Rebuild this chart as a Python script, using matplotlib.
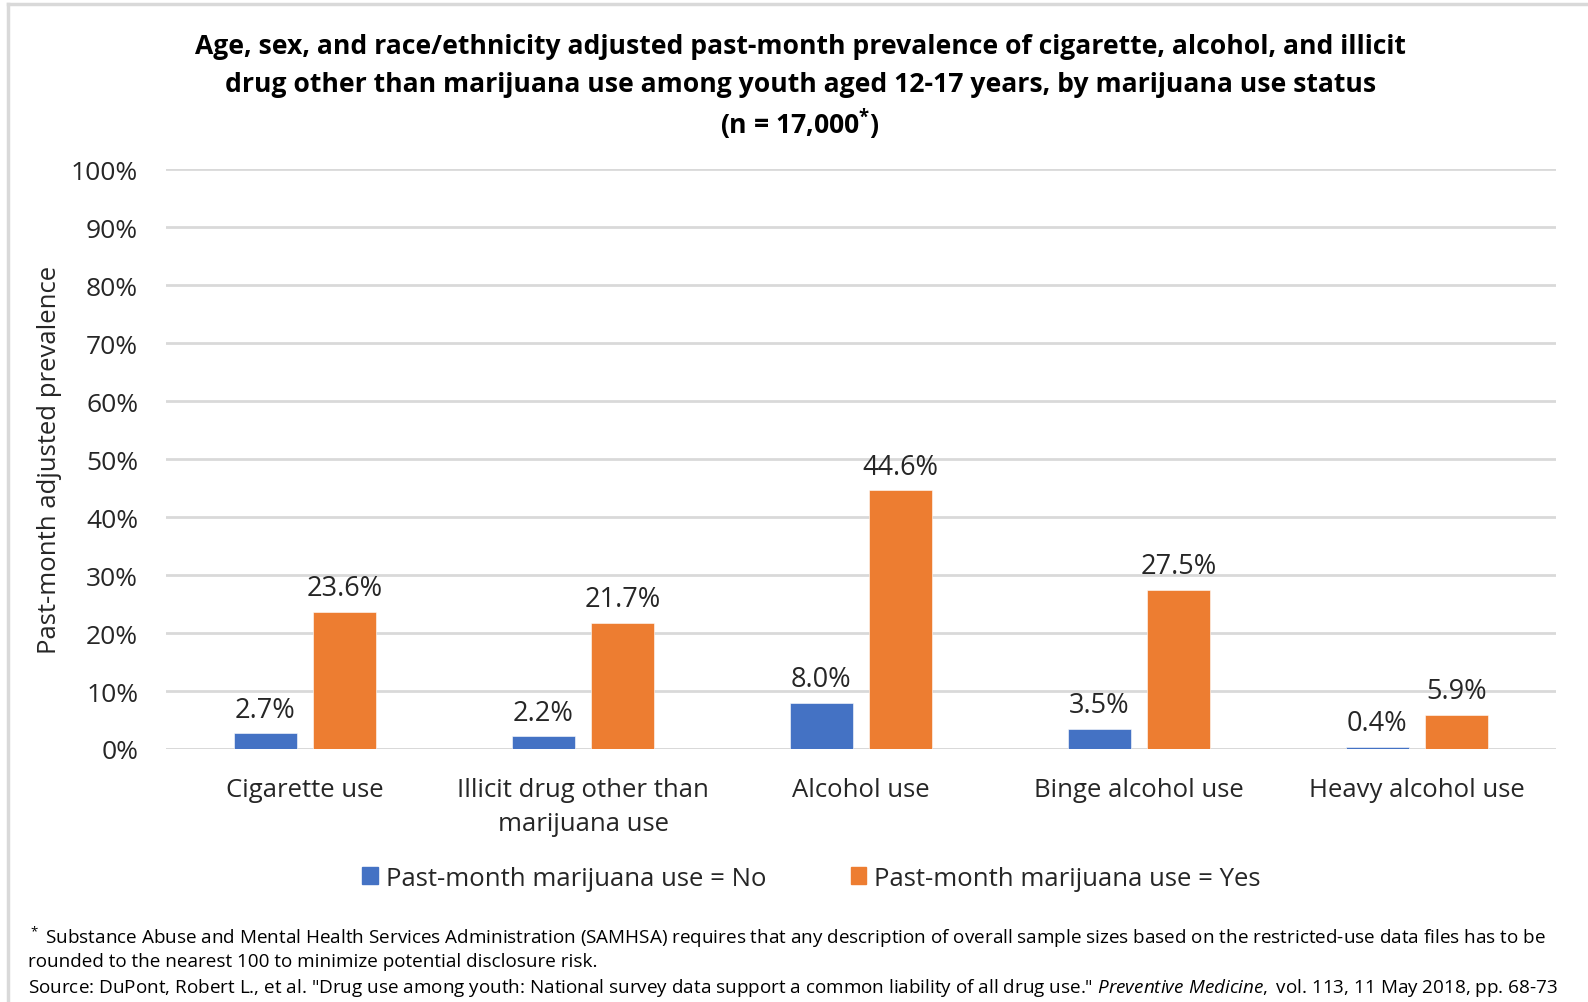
import matplotlib
matplotlib.use("Agg")
import matplotlib.pyplot as plt
from matplotlib.patches import Rectangle
from matplotlib.lines import Line2D
import numpy as np

plt.rcParams['font.family'] = ['Open Sans', 'DejaVu Sans']
plt.rcParams['mathtext.fontset'] = 'custom'
plt.rcParams['mathtext.rm'] = 'Open Sans'
plt.rcParams['mathtext.it'] = 'Open Sans:italic'
plt.rcParams['mathtext.bf'] = 'Open Sans:bold'

categories = ['Cigarette use', 'Illicit drug other than\nmarijuana use', 'Alcohol use',
              'Binge alcohol use', 'Heavy alcohol use']
no_use = [2.7, 2.2, 8.0, 3.5, 0.4]
yes_use = [23.6, 21.7, 44.6, 27.5, 5.9]
series_names = ['Past-month marijuana use = No', 'Past-month marijuana use = Yes']
yticks = list(range(0, 101, 10))

blue = '#4472C4'
orange = '#ED7D31'
grid_col = '#D9D9D9'
txt = '#262626'
fs = 18.5

fig = plt.figure(figsize=(15.88, 10.03), dpi=100)
ax = fig.add_axes([166 / 1588, 253 / 1003, 1390 / 1588, 580 / 1003])

x = np.arange(len(categories))
w = 0.227
off = 0.143
b1 = ax.bar(x - off, no_use, w, color=blue, edgecolor='white', linewidth=0.4, zorder=3)
b2 = ax.bar(x + off, yes_use, w, color=orange, edgecolor='white', linewidth=0.4, zorder=3)

for bars, vals in ((b1, no_use), (b2, yes_use)):
    for r, v in zip(bars, vals):
        ax.annotate(f'{v:.1f}%', (r.get_x() + r.get_width() / 2, v), xytext=(0, 7),
                    textcoords='offset points', ha='center', va='bottom',
                    fontsize=19.5, color=txt)

ax.set_xlim(-0.5, len(categories) - 0.5)
ax.set_ylim(0, 100)
ax.set_yticks(yticks)
ax.set_yticklabels([f'{t}%' for t in yticks], fontsize=19, color=txt)
ax.set_xticks(x)
ax.set_xticklabels(categories, fontsize=fs, color=txt, linespacing=1.5, va='top')
ax.tick_params(axis='both', length=0)
ax.tick_params(axis='y', pad=20)
ax.tick_params(axis='x', pad=20)
ax.yaxis.grid(True, color=grid_col, linewidth=2, zorder=0)
for s in ax.spines.values():
    s.set_visible(False)
ax.axhline(0, color=grid_col, linewidth=2, zorder=2)
ax.set_ylabel('Past-month adjusted prevalence', fontsize=fs, color=txt)
ax.yaxis.set_label_coords(-104 / 1390, 0.5)

# title
tkw = dict(ha='center', va='center', fontsize=19.1, fontweight='bold', color='black')
fig.text(0.504, 1 - 47 / 1003, 'Age, sex, and race/ethnicity adjusted past-month prevalence of cigarette, alcohol, and illicit', **tkw)
fig.text(0.504, 1 - 85 / 1003, 'drug other than marijuana use among youth aged 12-17 years, by marijuana use status', **tkw)
fig.text(0.504, 1 - 124 / 1003, r'(n = 17,000$^{\mathbf{*}}$)', **tkw)

# legend
handles = [Rectangle((0, 0), 1, 1, color=blue), Rectangle((0, 0), 1, 1, color=orange)]
fig.legend(handles, series_names, loc='center', bbox_to_anchor=(0.511, 1 - 879 / 1003),
           ncol=2, frameon=False, fontsize=fs, handlelength=0.6, handleheight=0.6,
           handletextpad=0.3, columnspacing=3.3, labelcolor=txt)

# footnotes
fkw = dict(ha='left', va='center', fontsize=13.6, color='black')
fig.text(28 / 1588, 1 - 937 / 1003,
         r'$^*$ Substance Abuse and Mental Health Services Administration (SAMHSA) requires that any description of overall sample sizes based on the restricted-use data files has to be',
         **fkw)
fig.text(28 / 1588, 1 - 962 / 1003,
         'rounded to the nearest 100 to minimize potential disclosure risk.', **fkw)
fig.text(28 / 1588, 1 - 988 / 1003,
         'Source: DuPont, Robert L., et al. "Drug use among youth: National survey data support a common liability of all drug use." '
         r'$\mathit{Preventive\ Medicine,}$ vol. 113, 11 May 2018, pp. 68-73', **fkw)

# chart frame
fig.add_artist(Line2D([8 / 1588, 8 / 1588], [0, 1 - 5 / 1003], color=grid_col, linewidth=2.5))
fig.add_artist(Line2D([8 / 1588, 1], [1 - 5 / 1003, 1 - 5 / 1003], color=grid_col, linewidth=2.5))

fig.savefig('out.png', dpi=100, facecolor='white')
